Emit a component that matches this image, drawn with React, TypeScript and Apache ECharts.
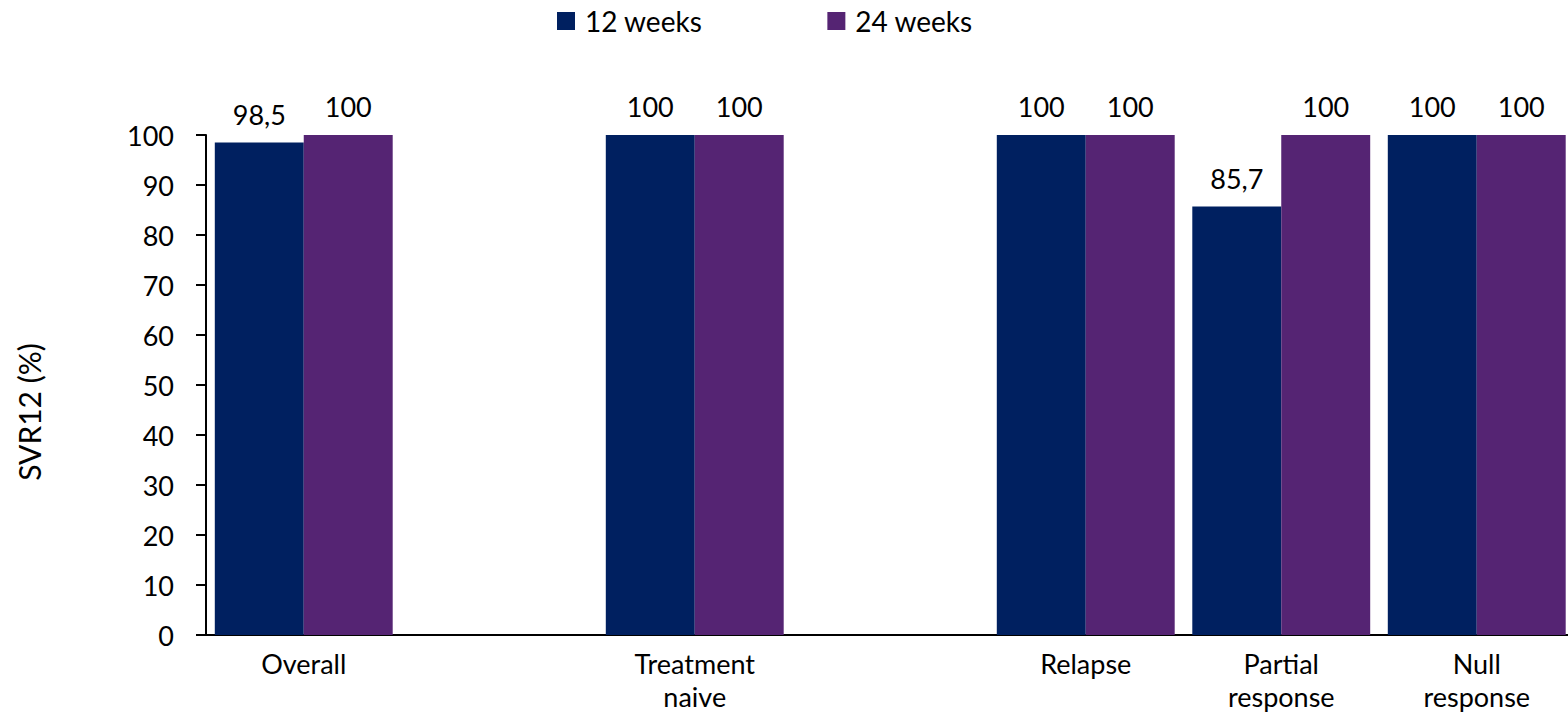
import React, { useEffect, useRef } from "react";
import * as echarts from "echarts";

const categories = ["Overall", "", "Treatment\nnaive", "", "Relapse", "Partial\nresponse", "Null\nresponse"];
const weeks12 = [98.5, null, 100, null, 100, 85.7, 100];
const weeks24 = [100, null, 100, null, 100, 100, 100];
const seriesNames = ["12 weeks", "24 weeks"];
const colors = ["#002060", "#552473"];
const yTicks = { min: 0, max: 100, interval: 10 };
const yTitle = "SVR12 (%)";

const FONT = "Lato, 'Open Sans', sans-serif";
const FS = 27;

export default function App() {
  const ref = useRef<HTMLDivElement>(null);
  useEffect(() => {
    if (!ref.current) return;
    const chart = echarts.init(ref.current, undefined, { renderer: "svg" });
    const label = {
      show: true,
      position: "top" as const,
      distance: 15,
      color: "#000",
      fontFamily: FONT,
      fontSize: FS,
      formatter: (p: any) => String(p.value).replace(".", ","),
    };
    chart.setOption({
      animation: false,
      textStyle: { fontFamily: FONT },
      legend: {
        left: 552,
        top: 2,
        itemWidth: 18,
        itemHeight: 18,
        itemGap: 125,
        icon: "rect",
        textStyle: { fontFamily: FONT, fontSize: 28, color: "#000", padding: [0, 0, 0, 5] },
        data: seriesNames,
      },
      grid: { left: 206, top: 135, right: 1.5, height: 500 },
      xAxis: {
        type: "category",
        data: categories,
        axisLine: { lineStyle: { color: "#000", width: 2 } },
        axisTick: { show: false },
        axisLabel: {
          interval: 0,
          margin: 12,
          color: "#000",
          fontFamily: FONT,
          fontSize: FS,
          lineHeight: 33,
        },
      },
      yAxis: {
        type: "value",
        min: yTicks.min,
        max: yTicks.max,
        interval: yTicks.interval,
        splitLine: { show: false },
        axisLine: { show: true, lineStyle: { color: "#000", width: 2 } },
        axisTick: { show: true, length: 10, lineStyle: { color: "#000", width: 2 } },
        axisLabel: { margin: 32, color: "#000", fontFamily: FONT, fontSize: FS },
      },
      graphic: [
        {
          type: "text",
          x: 29,
          y: 412,
          rotation: Math.PI / 2,
          style: {
            text: yTitle,
            fill: "#000",
            font: `30px ${FONT}`,
            align: "center",
            verticalAlign: "middle",
          },
        },
      ],
      series: [
        {
          name: seriesNames[0],
          type: "bar",
          data: weeks12,
          barGap: "0%",
          barCategoryGap: "9%",
          itemStyle: { color: colors[0] },
          label,
        },
        {
          name: seriesNames[1],
          type: "bar",
          data: weeks24,
          barGap: "0%",
          barCategoryGap: "9%",
          itemStyle: { color: colors[1] },
          label,
        },
      ],
    });
    return () => chart.dispose();
  }, []);
  return (
    <div style={{ position: "absolute", left: 0, top: 0, width: 1568, height: 715, overflow: "hidden", background: "#fff" }}>
      <div ref={ref} style={{ width: 1576, height: 715 }} />
    </div>
  );
}
